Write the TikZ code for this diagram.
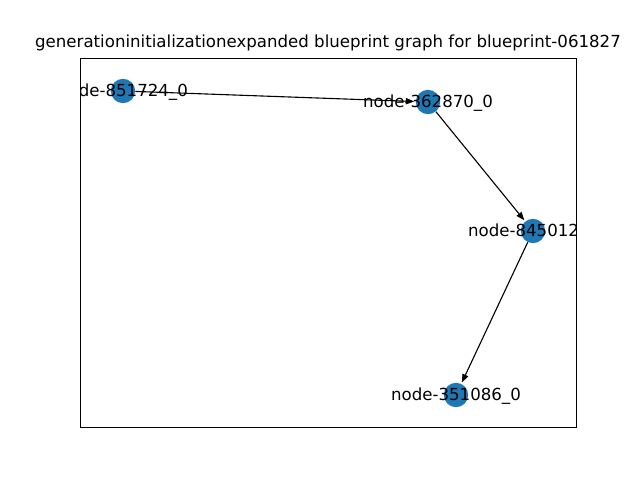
\documentclass[tikz,border=0pt]{standalone}
\usepackage{fontspec}
\setmainfont{DejaVu Sans}
\usepackage{tikz}
\usetikzlibrary{arrows.meta}
\definecolor{nodeblue}{HTML}{1F77B4}

\tikzset{
  bpnode/.style={circle, fill=nodeblue, minimum size=17.6pt, inner sep=0pt},
  bplabel/.style={inner sep=0pt, font=\fontsize{12}{14}\selectfont},
  bpedge/.style={-{Triangle[length=6pt, width=4.5pt]}, line width=0.8pt, shorten >=1pt}
}

\begin{document}
\begin{tikzpicture}[x=0.01in, y=0.01in]
  \useasboundingbox (0,0) rectangle (640,480);
  % axes frame and title
  \draw[line width=0.6pt] (80,53) rectangle (576,422);
  \node[bplabel, anchor=base] (title) at (328,432) {generationinitializationexpanded blueprint graph for blueprint-061827};

  % blueprint nodes
  \node[bpnode] (n851724) at (123,389) {};
  \node[bpnode] (n362870) at (428,378) {};
  \node[bpnode] (n845012) at (533,249) {};
  \node[bpnode] (n351086) at (456,85) {};

  % edges
  \draw[bpedge] (n851724) -- (n362870);
  \draw[bpedge] (n362870) -- (n845012);
  \draw[bpedge] (n845012) -- (n351086);

  % labels, cut off at the frame
  \begin{scope}
    \clip (80,53) rectangle (576,422);
    \node[bplabel] (l851724) at ([yshift=-1]n851724) {node-851724\_0};
    \node[bplabel] (l362870) at ([yshift=-1]n362870) {node-362870\_0};
    \node[bplabel] (l845012) at ([yshift=-1]n845012) {node-845012\_0};
    \node[bplabel] (l351086) at ([yshift=-1]n351086) {node-351086\_0};
  \end{scope}
\end{tikzpicture}
\end{document}
